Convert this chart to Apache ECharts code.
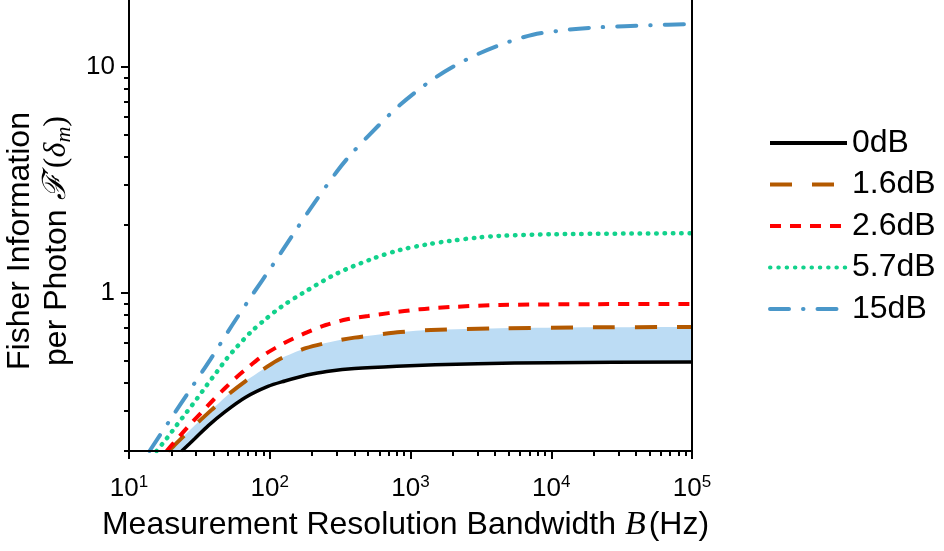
<!DOCTYPE html>
<html>
<head>
<meta charset="utf-8">
<script src="https://cdn.jsdelivr.net/npm/echarts@6/dist/echarts.min.js"></script>
<style>
  html, body { margin: 0; padding: 0; background: #fff; }
  #chart { width: 944px; height: 551px; }
</style>
</head>
<body>
<div id="chart"></div>
<script>
// values: [bandwidth B (Hz), Fisher information per photon]
const fi0dB = [[23.7, 0.2], [29.4, 0.227], [36.6, 0.259], [48, 0.298], [67, 0.345], [97, 0.386], [128, 0.408],
  [165, 0.426], [200, 0.438], [270, 0.452], [400, 0.463], [800, 0.474], [1500, 0.481], [3000, 0.487],
  [10000, 0.492], [100000, 0.495]]
const fi16dB = [[19, 0.2], [20.7, 0.21], [29.4, 0.26], [41.3, 0.316], [52, 0.36], [67, 0.407], [90, 0.46],
  [118, 0.511], [180, 0.57], [270, 0.607], [400, 0.635], [600, 0.656], [850, 0.672], [1400, 0.686],
  [4300, 0.698], [20000, 0.705], [100000, 0.707]]
const fi26dB = [[18.5, 0.2], [22, 0.226], [27, 0.261], [33, 0.298], [40, 0.338], [48, 0.379], [57, 0.42],
  [69, 0.465], [88, 0.525], [110, 0.572], [140, 0.62], [184, 0.67], [250, 0.722], [354, 0.765], [500, 0.792],
  [700, 0.815], [1170, 0.848], [2000, 0.868], [4300, 0.885], [20000, 0.893], [100000, 0.894]]
const fi57dB = [[15.7, 0.2], [18.5, 0.227], [21.8, 0.26], [25.7, 0.297], [30.3, 0.34], [35.6, 0.39],
  [42, 0.447], [49.4, 0.512], [58, 0.575], [74, 0.675], [92, 0.76], [121, 0.87], [172, 1.0], [300, 1.22],
  [540, 1.42], [840, 1.55], [1300, 1.64], [1900, 1.7], [3000, 1.76], [4300, 1.79], [10000, 1.82],
  [100000, 1.84]]
const fi15dB = [[14, 0.2], [20, 0.28], [27, 0.371], [38, 0.51], [54, 0.72], [75, 0.98], [105, 1.33],
  [150, 1.86], [210, 2.53], [300, 3.45], [370, 4.05], [500, 4.95], [840, 6.79], [1450, 8.85], [2500, 10.8],
  [4300, 12.5], [7400, 13.9], [13000, 14.6], [22000, 15.0], [50000, 15.3], [100000, 15.5]]

const legendNames = ['0dB', '1.6dB', '2.6dB', '5.7dB', '15dB']

const xMajorTicks = [10, 100, 1000, 10000, 100000]
const yMajorTicks = [1, 10]
// minor ticks at 2..9 of every decade
const xMinorTicks = []
for (const d of [10, 100, 1000, 10000]) {
  for (let k = 2; k <= 9; k++) xMinorTicks.push(d * k)
}
const yMinorTicks = []
for (const d of [0.1, 1, 10]) {
  for (let k = 2; k <= 9; k++) {
    const v = +(d * k).toFixed(2)
    if (v >= 0.2 && v <= 20) yMinorTicks.push(v)
  }
}

const FONT = 'Liberation Sans, Arial, sans-serif'
const MATH = 'Liberation Serif, DejaVu Serif, serif'
const AXIS_LINE = { lineStyle: { color: '#000', width: 2 } }

const chart = echarts.init(document.getElementById('chart'))

function curve(name, data, color, width, dash, extra) {
  return Object.assign({
    name: name,
    type: 'line',
    data: data,
    symbol: 'none',
    smooth: 0.3,
    clip: true,
    lineStyle: { color: color, width: width, type: dash },
    itemStyle: { color: color },
    emphasis: { disabled: true }
  }, extra || {})
}

chart.setOption({
  animation: false,
  backgroundColor: '#fff',
  grid: { left: 129, right: 252, top: -1, bottom: 100, outerBoundsMode: 'none' },
  legend: {
    data: legendNames,
    orient: 'vertical',
    left: 763,
    top: 122,
    itemWidth: 77,
    itemHeight: 20,
    itemGap: 9.5,
    itemStyle: { opacity: 0 },
    lineStyle: { width: 4 },
    textStyle: { fontFamily: FONT, fontSize: 32, color: '#000', lineHeight: 30 }
  },
  xAxis: [{
    type: 'log',
    logBase: 10,
    min: 10,
    max: 100000,
    position: 'bottom',
    z: 10,
    axisLine: AXIS_LINE,
    splitLine: { show: false },
    axisTick: { customValues: xMajorTicks, length: 8, lineStyle: { color: '#000', width: 2 } },
    axisLabel: {
      customValues: xMajorTicks,
      margin: 23,
      formatter: v => '{b|10}{s|' + Math.round(Math.log10(v)) + '}',
      rich: {
        b: { fontFamily: FONT, fontSize: 26, color: '#000', lineHeight: 30 },
        s: { fontFamily: FONT, fontSize: 17, color: '#000', lineHeight: 17, verticalAlign: 'top' }
      }
    },
    name: 'Measurement Resolution Bandwidth {i|B}{r|(Hz)}',
    nameLocation: 'middle',
    nameGap: 57,
    nameTextStyle: {
      fontFamily: FONT, fontSize: 32, color: '#000',
      padding: [0, 10, 0, 0],
      rich: {
        i: { fontFamily: MATH, fontStyle: 'italic', fontSize: 34, color: '#000' },
        r: { fontFamily: FONT, fontSize: 32, color: '#000', padding: [0, 0, 0, 3] }
      }
    }
  }, {
    type: 'log',
    logBase: 10,
    min: 10,
    max: 100000,
    position: 'bottom',
    z: 10,
    axisLine: { show: false },
    splitLine: { show: false },
    axisTick: { customValues: xMinorTicks, length: 5, lineStyle: { color: '#000', width: 2 } },
    axisLabel: { show: false }
  }],
  yAxis: [{
    type: 'log',
    logBase: 10,
    min: 0.2,
    max: 20,
    position: 'left',
    z: 10,
    axisLine: AXIS_LINE,
    splitLine: { show: false },
    axisTick: { customValues: yMajorTicks, length: 8, lineStyle: { color: '#000', width: 2 } },
    axisLabel: {
      customValues: yMajorTicks,
      margin: 14,
      fontFamily: FONT,
      fontSize: 26,
      color: '#000',
      formatter: v => String(v)
    },
    name: 'Fisher Information\nper Photon {f|ℱ}{p|′}{m|(}{d|δ}{sub|m}{m|)}',
    nameLocation: 'middle',
    nameRotate: 90,
    nameGap: 38,
    nameTextStyle: {
      fontFamily: FONT, fontSize: 32, color: '#000', lineHeight: 37,
      padding: [0, 32, 0, 0],
      rich: {
        f: { fontFamily: MATH, fontStyle: 'italic', fontSize: 32, color: '#000', lineHeight: 37 },
        p: { fontFamily: 'DejaVu Sans, sans-serif', fontSize: 28, color: '#000', lineHeight: 37 },
        m: { fontFamily: MATH, fontSize: 32, color: '#000', lineHeight: 37 },
        d: { fontFamily: MATH, fontStyle: 'italic', fontSize: 32, color: '#000', lineHeight: 37 },
        sub: { fontFamily: MATH, fontStyle: 'italic', fontSize: 22, color: '#000', lineHeight: 26, verticalAlign: 'bottom' }
      }
    }
  }, {
    type: 'log',
    logBase: 10,
    min: 0.2,
    max: 20,
    position: 'left',
    z: 10,
    axisLine: { show: false },
    splitLine: { show: false },
    axisTick: { customValues: yMinorTicks, length: 5, lineStyle: { color: '#000', width: 2 } },
    axisLabel: { show: false }
  }, {
    type: 'log',
    logBase: 10,
    min: 0.2,
    max: 20,
    position: 'right',
    z: 10,
    axisLine: AXIS_LINE,
    splitLine: { show: false },
    axisTick: { show: false },
    axisLabel: { show: false }
  }],
  series: [
    // 1.6dB fills down to the axis in light blue, 0dB then paints white below itself -> band between them
    curve('1.6dB', fi16dB, '#b35900', 4, [22, 20], {
      areaStyle: { color: '#bcdcf4', opacity: 1, origin: 'start' }, z: 2
    }),
    curve('0dB', fi0dB, '#000', 3.5, 'solid', {
      areaStyle: { color: '#fff', opacity: 1, origin: 'start' }, z: 3
    }),
    curve('2.6dB', fi26dB, '#ff0000', 4, [11, 9], { z: 4 }),
    curve('5.7dB', fi57dB, '#12d28c', 4.5, [0.5, 7.8], {
      lineStyle: { color: '#12d28c', width: 4.5, type: [0.5, 7.8], cap: 'round' }, z: 4
    }),
    curve('15dB', fi15dB, '#4a97c9', 4, [19, 14, 0.5, 14], {
      lineStyle: { color: '#4a97c9', width: 4, type: [19, 14, 0.5, 14], cap: 'round' }, z: 4
    })
  ]
})
</script>
</body>
</html>
